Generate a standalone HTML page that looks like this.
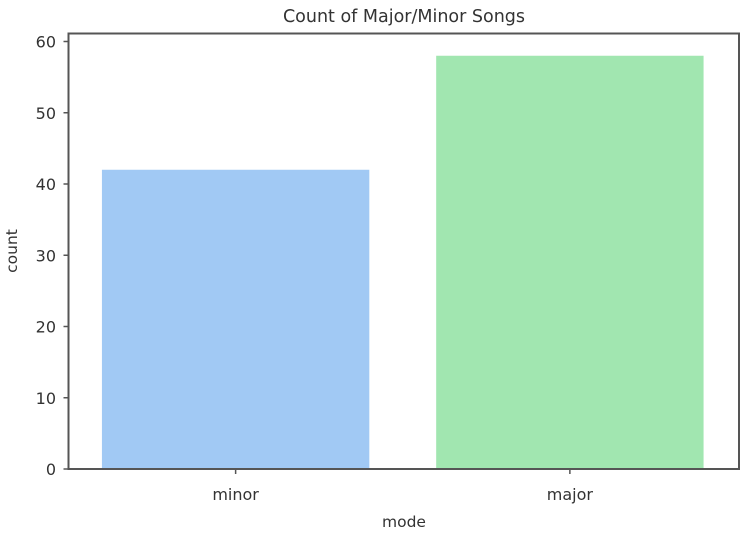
<!DOCTYPE html>
<html><head><meta charset="utf-8"><style>body{margin:0;background:#fff}svg{display:block}text{font-family:"DejaVu Sans","Liberation Sans",sans-serif;fill:#333}</style></head>
<body>
<svg id="chart" width="753" height="543">
<text x="404" y="22" text-anchor="middle" font-size="17.5">Count of Major/Minor Songs</text>
<g id="bars"></g><g id="yticks"></g><g id="xticks"></g>
<rect x="68.5" y="33.5" width="670.5" height="435.5" fill="none" stroke="#555" stroke-width="2"/>
<text x="404" y="527" text-anchor="middle" font-size="15.5">mode</text>
<text transform="translate(17,251) rotate(-90)" text-anchor="middle" font-size="15.5">count</text>
</svg>
<script>
const categories=["minor","major"];
const counts=[42,58];
const colors=["#a1c9f4","#a1e6b0"];
const yTicks=[0,10,20,30,40,50,60];
const ns="http://www.w3.org/2000/svg";
const L=68.5,R=737,B=469,T60=41.5;
const y=v=>B-(B-T60)*v/60;
const band=(R-L)/categories.length;
const x=i=>L+band*(i+0.5);
const bw=band*0.8;
function mk(t,a){const e=document.createElementNS(ns,t);for(const k in a)e.setAttribute(k,a[k]);return e;}
categories.forEach((c,i)=>{
 const r=mk("rect",{x:x(i)-bw/2,y:y(counts[i]),width:bw,height:B-y(counts[i]),fill:colors[i]});
 
 
 document.getElementById("bars").appendChild(r);
 const t=mk("text",{x:x(i),y:B+31,"text-anchor":"middle","font-size":"16"});t.textContent=c;
 
 
 document.getElementById("xticks").appendChild(t);
 const tk=mk("line",{x1:x(i),x2:x(i),y1:B,y2:B+5,stroke:"#555","stroke-width":1.5});
 
 
 document.getElementById("xticks").appendChild(tk);
});
yTicks.forEach(v=>{
 const t=mk("text",{x:56,y:y(v)+6,"text-anchor":"end","font-size":"16"});t.textContent=v;
 
 
 document.getElementById("yticks").appendChild(t);
 const tk=mk("line",{x1:L-5,x2:L,y1:y(v),y2:y(v),stroke:"#555","stroke-width":1.5});
 
 
 document.getElementById("yticks").appendChild(tk);
});
</script>
</body></html>
